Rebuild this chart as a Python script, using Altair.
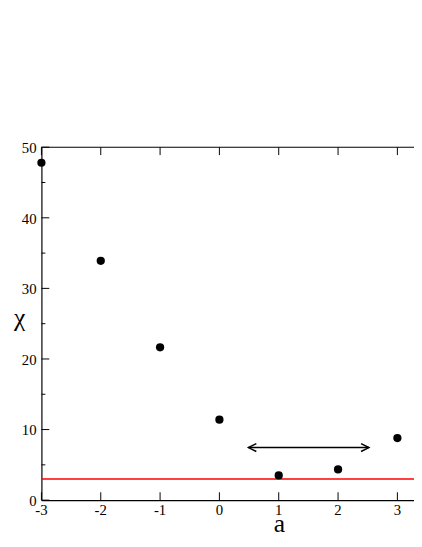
import altair as alt
import pandas as pd

# ---- data (chi versus a) ----
a_vals = [-3, -2, -1, 0, 1, 2, 3]
chi_vals = [47.8, 33.9, 21.65, 11.4, 3.5, 4.35, 8.8]
ref_chi = 3.0
arrow_a = [0.49, 2.52]
arrow_chi = 7.45
x_ticks = [-3, -2, -1, 0, 1, 2, 3]
x_tick_labels = ["-3", "-2", "-1", "0", "1", "2", "3"]
y_major = [0, 10, 20, 30, 40, 50]
y_tick_labels = ["0", "10", "20", "30", "40", "50"]
y_minor = [5, 15, 25, 35, 45]
x_domain = [-3, 3.28]
y_domain = [0, 50]
x_title = "a"
y_title = "χ"

W, H = 379, 359
FONT = "Liberation Serif"

xs = alt.Scale(domain=x_domain, nice=False, zero=False)
ys = alt.Scale(domain=y_domain, nice=False, zero=False)

x_axis = alt.Axis(values=x_ticks, ticks=False, grid=False, labels=False,
                  domainColor="black", domainWidth=1.2)
y_axis = alt.Axis(values=y_major, ticks=False, grid=False, labels=False,
                  domainColor="black", domainWidth=1.2)


def X(field):
    return alt.X(field, scale=xs, axis=x_axis, title=None)


def Y(field):
    return alt.Y(field, scale=ys, axis=y_axis, title=None)


pts = pd.DataFrame({"a": a_vals, "chi": chi_vals})

points = alt.Chart(pts).mark_circle(size=70, color="black", opacity=1).encode(
    x=X("a:Q"), y=Y("chi:Q"),
)

ref_line = alt.Chart(pd.DataFrame({"chi": [ref_chi]})).mark_rule(
    color="#ff0000", strokeWidth=1.5
).encode(
    y=Y("chi:Q"), x=alt.value(0), x2=alt.value(W),
)

arrow_df = pd.DataFrame({"a0": [arrow_a[0]], "a1": [arrow_a[1]], "chi": [arrow_chi]})
arrow_shaft = alt.Chart(arrow_df).mark_rule(color="black", strokeWidth=1.5).encode(
    x=X("a0:Q"), x2="a1:Q", y=Y("chi:Q"),
)
left_head = alt.Chart(pd.DataFrame({"a": [arrow_a[0]], "chi": [arrow_chi]})).mark_point(
    shape="M1,-0.5L0,0L1,0.5", size=256, filled=False, color="black",
    strokeWidth=1.5, opacity=1,
).encode(x=X("a:Q"), y=Y("chi:Q"))
right_head = alt.Chart(pd.DataFrame({"a": [arrow_a[1]], "chi": [arrow_chi]})).mark_point(
    shape="M-1,-0.5L0,0L-1,0.5", size=256, filled=False, color="black",
    strokeWidth=1.5, opacity=1,
).encode(x=X("a:Q"), y=Y("chi:Q"))

xt = pd.DataFrame({"a": x_ticks, "lab": x_tick_labels})
bottom_ticks = alt.Chart(xt).mark_rule(color="black", strokeWidth=1).encode(
    x=X("a:Q"), y=alt.value(H), y2=alt.value(H - 8),
)
top_ticks = alt.Chart(xt).mark_rule(color="black", strokeWidth=1).encode(
    x=X("a:Q"), y=alt.value(0), y2=alt.value(8),
)
x_labels = alt.Chart(xt).mark_text(
    font=FONT, fontSize=15, color="black", align="center", baseline="alphabetic"
).encode(
    x=X("a:Q"), y=alt.value(H + 15), text="lab:N",
)

yt = pd.DataFrame({"chi": y_major, "lab": y_tick_labels})
ymaj = alt.Chart(yt).mark_rule(color="black", strokeWidth=1).encode(
    y=Y("chi:Q"), x=alt.value(0), x2=alt.value(8),
)
y_labels = alt.Chart(yt).mark_text(
    font=FONT, fontSize=15, color="black", align="right", baseline="middle", dy=1
).encode(
    y=Y("chi:Q"), x=alt.value(-5), text="lab:N",
)
ymin = alt.Chart(pd.DataFrame({"chi": y_minor})).mark_rule(color="black", strokeWidth=1).encode(
    y=Y("chi:Q"), x=alt.value(0), x2=alt.value(4),
)
top_border = alt.Chart(pd.DataFrame({"chi": [y_domain[1]]})).mark_rule(
    color="black", strokeWidth=1.2
).encode(
    y=Y("chi:Q"), x=alt.value(0), x2=alt.value(W),
)

x_title_mark = alt.Chart(pd.DataFrame({"t": [x_title]})).mark_text(
    font=FONT, fontSize=26, color="black", align="center", baseline="alphabetic"
).encode(x=alt.value(242), y=alt.value(H + 32), text="t:N")
y_title_mark = alt.Chart(pd.DataFrame({"t": [y_title]})).mark_text(
    font=FONT, fontSize=26, color="black", align="center", baseline="alphabetic"
).encode(x=alt.value(-22), y=alt.value(182), text="t:N")

chart = alt.layer(
    ref_line, bottom_ticks, top_ticks, ymaj, ymin, top_border,
    arrow_shaft, left_head, right_head, points,
    x_labels, y_labels, x_title_mark, y_title_mark,
).properties(
    width=W, height=H,
    background="white",
    autosize=alt.AutoSizeParams(type="none"),
    padding={"left": 34, "top": 137, "right": 0, "bottom": 40},
).configure_view(stroke=None)

chart.save("out.html", embed_options={"renderer": "svg", "actions": False})
